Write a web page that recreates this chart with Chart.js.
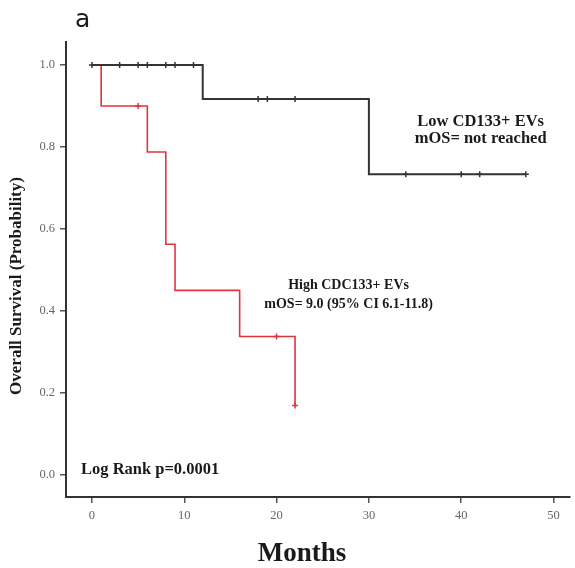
<!DOCTYPE html>
<html>
<head>
<meta charset="utf-8">
<script src="https://cdn.jsdelivr.net/npm/chart.js@4/dist/chart.umd.min.js"></script>
<style>
  html, body { margin: 0; padding: 0; background: #fff; overflow: hidden; }
  #wrap { width: 575px; height: 568px; }
  canvas { display: block; }
</style>
</head>
<body>
<div id="wrap"><canvas id="kmChart"></canvas></div>
<script>
// Kaplan-Meier steps (time in months, survival probability)
const lowTimes = [0, 12, 30, 47];
const lowSurv = [1.0, 0.9167, 0.7333, 0.7333];
const highTimes = [0, 1, 6, 8, 9, 16, 22];
const highSurv = [1.0, 0.9, 0.7875, 0.5625, 0.45, 0.3375, 0.169];

// censored observations
const lowCensTimes = [0, 3, 5, 6, 8, 9, 11, 18, 19, 22, 34, 40, 42, 47];
const lowCensSurv = [1.0, 1.0, 1.0, 1.0, 1.0, 1.0, 1.0, 0.9167, 0.9167, 0.9167, 0.7333, 0.7333, 0.7333, 0.7333];
const highCensTimes = [5, 20, 22];
const highCensSurv = [0.9, 0.3375, 0.169];

const xTicks = [0, 10, 20, 30, 40, 50];
const yTicks = [0, 0.2, 0.4, 0.6, 0.8, 1.0];

const RED = "#e0343f";
const DARK = "#333333";

function pts(xs, ys) {
  return xs.map((x, i) => ({ x: x, y: ys[i] }));
}

// extra text: panel letter, group notes, axis titles
const textPlugin = {
  id: "kmText",
  afterDraw(chart) {
    const ctx = chart.ctx;
    const xs = chart.scales.x;
    const ys = chart.scales.y;
    ctx.save();
    ctx.fillStyle = "#1a1a1a";

    ctx.textBaseline = "alphabetic";
    ctx.font = "25px 'DejaVu Sans', sans-serif";
    ctx.textAlign = "left";
    ctx.fillText("a", 75, 27);

    ctx.textBaseline = "middle";
    ctx.font = "bold 16.5px 'Liberation Serif', serif";
    ctx.textAlign = "center";
    ctx.fillText("Low CD133+ EVs", xs.getPixelForValue(42.1), ys.getPixelForValue(0.861));
    ctx.fillText("mOS= not reached", xs.getPixelForValue(42.1), ys.getPixelForValue(0.821));

    ctx.font = "bold 14px 'Liberation Serif', serif";
    ctx.fillText("High CDC133+ EVs", xs.getPixelForValue(27.8), ys.getPixelForValue(0.463));
    ctx.fillText("mOS= 9.0 (95% CI 6.1-11.8)", xs.getPixelForValue(27.8), ys.getPixelForValue(0.415));

    ctx.font = "bold 16.5px 'Liberation Serif', serif";
    ctx.textAlign = "left";
    ctx.fillText("Log Rank p=0.0001", 81, 470);

    ctx.font = "bold 27px 'Liberation Serif', serif";
    ctx.textAlign = "center";
    ctx.fillText("Months", 302, 554);

    ctx.font = "bold 17px 'Liberation Serif', serif";
    ctx.translate(17, 286);
    ctx.rotate(-Math.PI / 2);
    ctx.fillText("Overall Survival (Probability)", 0, 0);
    ctx.restore();
  }
};

const ctx = document.getElementById("kmChart").getContext("2d");
new Chart(ctx, {
  type: "line",
  data: {
    datasets: [
      {
        label: "Low",
        data: pts(lowTimes, lowSurv),
        borderColor: DARK,
        borderWidth: 2,
        stepped: "before",
        pointRadius: 0,
        fill: false,
      },
      {
        label: "High",
        data: pts(highTimes, highSurv),
        borderColor: RED,
        borderWidth: 1.6,
        stepped: "before",
        pointRadius: 0,
        fill: false,
      },
      {
        label: "Low censored",
        data: pts(lowCensTimes, lowCensSurv),
        showLine: false,
        pointStyle: "cross",
        pointRadius: 3,
        borderColor: DARK,
        borderWidth: 1.5,
      },
      {
        label: "High censored",
        data: pts(highCensTimes, highCensSurv),
        showLine: false,
        pointStyle: "cross",
        pointRadius: 3,
        borderColor: RED,
        borderWidth: 1.5,
      },
    ],
  },
  options: {
    responsive: true,
    maintainAspectRatio: false,
    animation: false,
    layout: { padding: { top: 42, right: 0, left: 0, bottom: 0 } },
    plugins: {
      legend: { display: false },
      tooltip: { enabled: false },
    },
    scales: {
      x: {
        type: "linear",
        min: -2.81,
        max: 51.73,
        afterBuildTicks: (scale) => {
          scale.ticks = xTicks.map((v) => ({ value: v }));
        },
        afterFit: (scale) => {
          scale.height = 71;
        },
        border: { display: true, width: 2, color: DARK },
        grid: { display: true, drawOnChartArea: false, drawTicks: true, tickLength: 6, color: "#555", lineWidth: 1.5 },
        ticks: {
          color: "#666",
          font: { family: "'Liberation Serif', serif", size: 12.5 },
          padding: 5,
          maxRotation: 0,
        },
      },
      y: {
        type: "linear",
        min: -0.054,
        max: 1.056,
        afterBuildTicks: (scale) => {
          scale.ticks = yTicks.map((v) => ({ value: v }));
        },
        afterFit: (scale) => {
          scale.width = 66;
        },
        border: { display: true, width: 2, color: DARK },
        grid: { display: true, drawOnChartArea: false, drawTicks: true, tickLength: 6, color: "#555", lineWidth: 1.5 },
        ticks: {
          color: "#666",
          font: { family: "'Liberation Serif', serif", size: 12.5 },
          padding: 5,
          callback: (v) => v.toFixed(1),
        },
      },
    },
  },
  plugins: [textPlugin],
});
</script>
</body>
</html>
